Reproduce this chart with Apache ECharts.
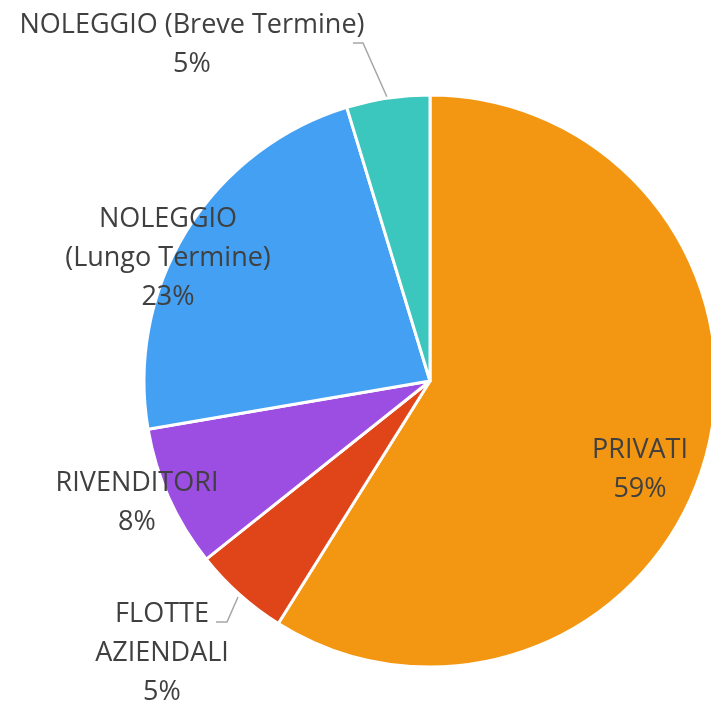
<!DOCTYPE html>
<html>
<head>
<meta charset="utf-8">
<script src="https://cdn.jsdelivr.net/npm/echarts@6/dist/echarts.min.js"></script>
<style>
html, body { margin: 0; padding: 0; background: #fff; }
#chart { width: 711px; height: 703px; }
</style>
</head>
<body>
<div id="chart"></div>
<script>
var categories = ['PRIVATI', 'FLOTTE\nAZIENDALI', 'RIVENDITORI', 'NOLEGGIO\n(Lungo Termine)', 'NOLEGGIO (Breve Termine)'];
var values = [58.9, 5.4, 8.0, 23.0, 4.7];
var colors = ['#F39712', '#E04419', '#9C4EE2', '#43A0F2', '#3BC6BE'];

// label centres and leader lines (pixels)
var labelPos = [[640, 470], [162, 653], [137, 503], [168, 258], [192, 45]];
var leaderLines = {
    1: [[238, 597], [227, 622], [216, 622]],
    4: [[387, 97], [363, 43], [353, 43]]
};

var chart = echarts.init(document.getElementById('chart'));

var data = [];
for (var i = 0; i < categories.length; i++) {
    data.push({
        name: categories[i],
        value: values[i],
        itemStyle: {color: colors[i]},
        labelLine: {show: leaderLines[i] ? true : false}
    });
}

chart.setOption({
    animation: false,
    series: [{
        type: 'pie',
        center: [430, 381],
        radius: 286,
        startAngle: 90,
        clockwise: true,
        percentPrecision: 0,
        avoidLabelOverlap: false,
        itemStyle: {borderColor: '#fff', borderWidth: 3},
        label: {
            show: true,
            position: 'outside',
            formatter: '{b}\n{d}%',
            fontFamily: 'Open Sans',
            fontSize: 27,
            lineHeight: 39,
            color: '#404040',
            align: 'center'
        },
        labelLine: {lineStyle: {color: '#a6a6a6', width: 1.5}, length: 10, length2: 10},
        labelLayout: function (params) {
            var p = labelPos[params.dataIndex];
            var out = {x: p[0], y: p[1], align: 'center', verticalAlign: 'middle'};
            if (leaderLines[params.dataIndex]) {
                out.labelLinePoints = leaderLines[params.dataIndex];
            }
            return out;
        },
        data: data
    }]
});
</script>
</body>
</html>
